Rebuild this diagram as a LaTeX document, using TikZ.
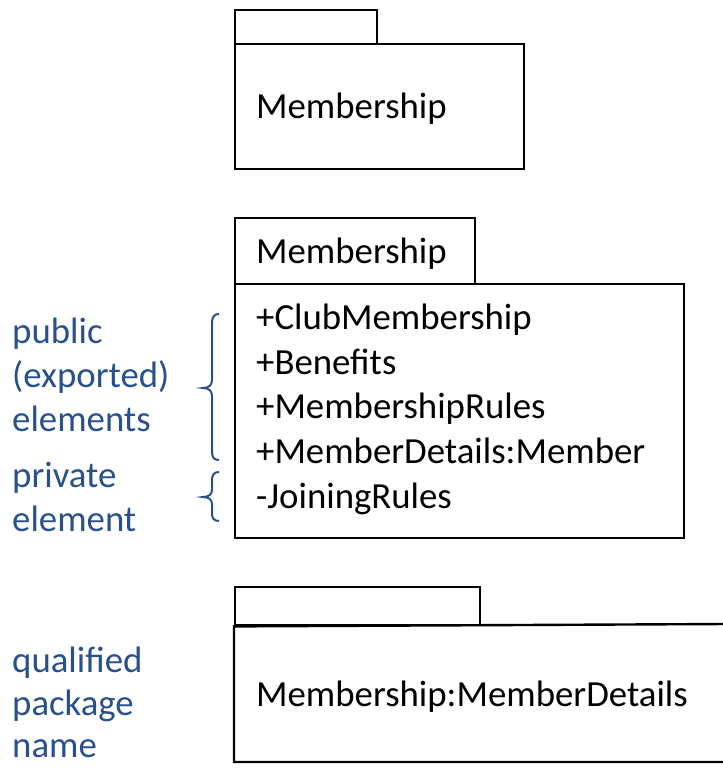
\documentclass[tikz,border=0pt]{standalone}
\usepackage{fontspec}
\setmainfont{Carlito}
\definecolor{noteblue}{RGB}{41,80,140}
\begin{document}
\begin{tikzpicture}[x=1pt,y=-1pt,
  box/.style={draw=black,line width=2.4pt,inner sep=0pt,anchor=north west},
  txt/.style={inner sep=0pt,anchor=base west,font=\fontsize{36.8}{44}\selectfont,text=black},
  note/.style={inner sep=0pt,anchor=base west,font=\fontsize{36.8}{44}\selectfont,text=noteblue},
  bracepath/.style={draw=noteblue,line width=2pt}]
\useasboundingbox (0,0) rectangle (723,769);
% package 1
\node[box,minimum width=142pt,minimum height=34pt] (tab1) at (234,9) {};
\node[box,minimum width=289pt,minimum height=125pt] (body1) at (234,43) {};
\node[txt] (name1) at (256,118) {Membership};
% package 2
\node[box,minimum width=240pt,minimum height=66pt] (tab2) at (234,217) {};
\node[box,minimum width=449pt,minimum height=254pt] (body2) at (234,283) {};
\node[txt] (name2) at (256,263) {Membership};
\node[txt] (e1) at (256,329) {+ClubMembership};
\node[txt] (e2) at (256,374) {+Benefits};
\node[txt] (e3) at (256,418) {+MembershipRules};
\node[txt] (e4) at (256,463) {+MemberDetails:Member};
\node[txt] (e5) at (256,508) {-JoiningRules};
% package 3
\node[box,minimum width=245pt,minimum height=38pt] (tab3) at (234,586) {};
\coordinate (b3tr) at (726,624);
\coordinate (b3br) at (726,762);
\draw[line width=2.4pt] (b3tr) -- (tab3.south west) -- (234,762) -- (b3br);
\node[txt] (name3) at (256,706) {Membership:MemberDetails};
% notes
\node[note] (n1) at (12,343) {public};
\node[note] (n2) at (12,387) {(exported)};
\node[note] (n3) at (12,431) {elements};
\node[note] (n4) at (12,487) {private};
\node[note] (n5) at (12,531) {element};
\node[note] (n6) at (12,672) {qualified};
\node[note] (n7) at (12,715) {package};
\node[note] (n8) at (12,757) {name};
% braces
\draw[bracepath] (219,314) .. controls (214,314) and (212,317) .. (212,323) -- (212,380)
  .. controls (212,385) and (209,388) .. (203,388)
  .. controls (209,388) and (212,391) .. (212,396) -- (212,452)
  .. controls (212,457) and (214,460) .. (219,460);
\draw[bracepath] (219,472) .. controls (214,472) and (212,475) .. (212,480) -- (212,490)
  .. controls (212,494) and (209,497) .. (203,497)
  .. controls (209,497) and (212,500) .. (212,504) -- (212,514)
  .. controls (212,518) and (214,521) .. (219,521);
\end{tikzpicture}
\end{document}
